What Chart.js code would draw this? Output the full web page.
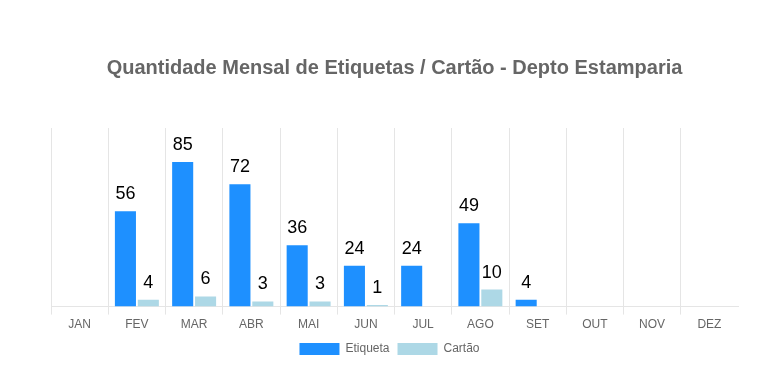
<!DOCTYPE html>
<html>
<head>
<meta charset="utf-8">
<script src="https://cdn.jsdelivr.net/npm/chart.js@4.4.1/dist/chart.umd.min.js"></script>
<style>
  html, body { margin: 0; padding: 0; background: #fff; }
  #wrap { width: 772px; height: 388px; }
</style>
</head>
<body>
<div id="wrap"><canvas id="chart"></canvas></div>
<script>
// dados mensais
const months = ['JAN', 'FEV', 'MAR', 'ABR', 'MAI', 'JUN', 'JUL', 'AGO', 'SET', 'OUT', 'NOV', 'DEZ'];
const etiqueta = [0, 56, 85, 72, 36, 24, 24, 49, 4, 0, 0, 0];
const cartao = [0, 4, 6, 3, 3, 1, 0, 10, 0, 0, 0, 0];

// rotulos de valor em cima das barras
const valueLabels = {
  id: 'valueLabels',
  afterDatasetsDraw(chart) {
    const ctx = chart.ctx;
    ctx.save();
    ctx.font = '18px Arial, "Liberation Sans", sans-serif';
    ctx.fillStyle = '#000';
    ctx.textAlign = 'center';
    ctx.textBaseline = 'alphabetic';
    chart.data.datasets.forEach((ds, i) => {
      const meta = chart.getDatasetMeta(i);
      meta.data.forEach((bar, j) => {
        const v = ds.data[j];
        if (!v) return;
        ctx.fillText(String(v), bar.x, bar.y - 12);
      });
    });
    ctx.restore();
  }
};

// legenda um pouco para a esquerda
const legendShift = {
  id: 'legendShift',
  afterLayout(chart) {
    if (chart.legend) {
      chart.legend.left -= 5;
      chart.legend.right -= 5;
    }
  }
};

Chart.defaults.font.family = 'Arial, "Liberation Sans", sans-serif';
Chart.defaults.color = '#666';

new Chart(document.getElementById('chart'), {
  type: 'bar',
  data: {
    labels: months,
    datasets: [
      { label: 'Etiqueta', data: etiqueta, backgroundColor: '#1E90FF', barPercentage: 0.92, categoryPercentage: 0.8 },
      { label: 'Cartão', data: cartao, backgroundColor: '#ADD8E6', barPercentage: 0.92, categoryPercentage: 0.8 }
    ]
  },
  options: {
    responsive: true,
    maintainAspectRatio: false,
    animation: false,
    layout: { padding: { top: 56, left: 51, right: 34, bottom: 23 } },
    plugins: {
      title: {
        display: true,
        text: 'Quantidade Mensal de Etiquetas / Cartão - Depto Estamparia',
        font: { size: 20, weight: 'bold' },
        color: '#666',
        padding: { top: 0, bottom: 48 }
      },
      legend: {
        position: 'bottom',
        labels: { boxWidth: 40, boxHeight: 12, padding: 8, font: { size: 12 } }
      },
      tooltip: { enabled: false }
    },
    scales: {
      x: {
        grid: {
          color: c => (c.tick ? 'rgba(0,0,0,0.1)' : 'rgba(0,0,0,0)')
        },
        ticks: { font: { size: 12 } }
      },
      y: {
        display: false,
        min: 0,
        max: 105
      }
    }
  },
  plugins: [valueLabels, legendShift]
});
</script>
</body>
</html>
